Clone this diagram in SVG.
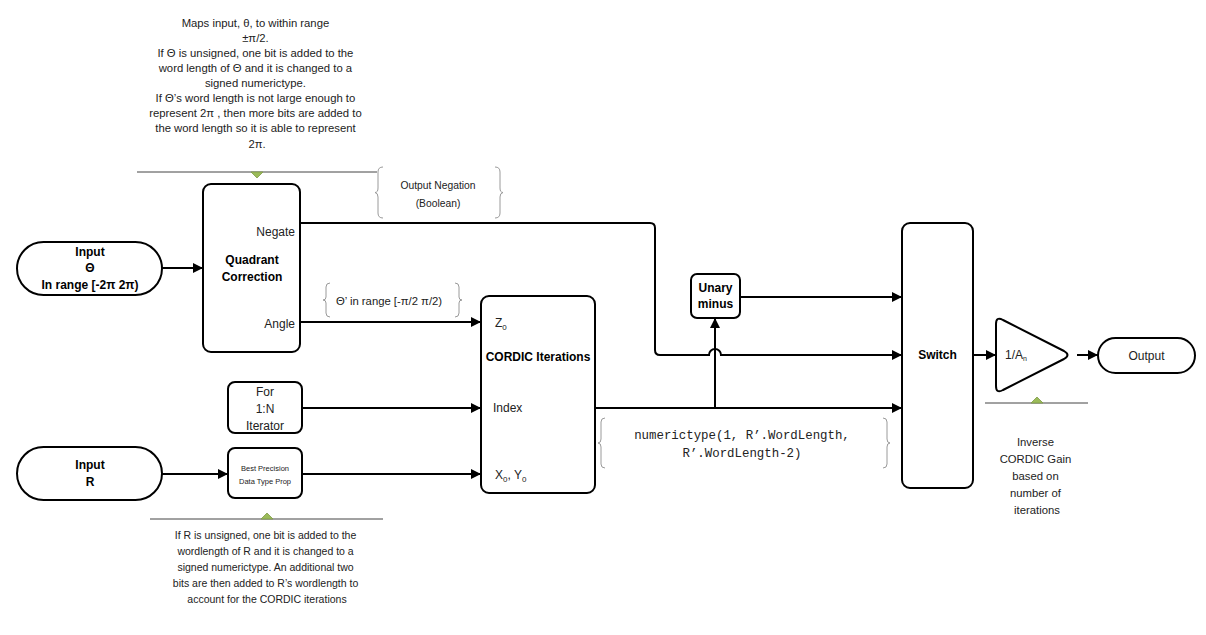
<svg xmlns="http://www.w3.org/2000/svg" width="1206" height="635" viewBox="0 0 1206 635">
<defs>
<style>
.box{fill:#fff;stroke:#000;stroke-width:2}
.conn{fill:none;stroke:#000;stroke-width:2}
.t{font-family:"Liberation Sans",Arial,sans-serif;font-size:12px;fill:#222}
.b{font-family:"Liberation Sans",Arial,sans-serif;font-size:12px;font-weight:bold;fill:#000}
.n{font-family:"Liberation Sans",Arial,sans-serif;font-size:11.3px;fill:#222}
.m{font-family:"Liberation Mono","Courier New",monospace;font-size:12.4px;fill:#222}
.brace{fill:none;stroke:#9a9a9a;stroke-width:1}
.aline{stroke:#444;stroke-width:1}
.tri{fill:#9bbb59;stroke:#7f9a48;stroke-width:0.8}
</style>
<marker id="arr" viewBox="0 0 10 10" refX="10" refY="5" markerWidth="5" markerHeight="5" orient="auto" markerUnits="strokeWidth">
<path d="M0,0 L10,5 L0,10 z" fill="#000"/>
</marker>
</defs>
<rect width="1206" height="635" fill="#fff"/>

<g id="note-top">
<text class="n" text-anchor="middle">
<tspan x="257" y="27">Maps input, θ, to within range</tspan>
<tspan x="257" y="42">±π/2.</tspan>
<tspan x="257" y="57">If Θ is unsigned, one bit is added to the</tspan>
<tspan x="257" y="72">word length of Θ and it is changed to a</tspan>
<tspan x="257" y="87">signed numerictype.</tspan>
<tspan x="257" y="102">If Θ’s word length is not large enough to</tspan>
<tspan x="257" y="117">represent 2π , then more bits are added to</tspan>
<tspan x="257" y="132">the word length so it is able to represent</tspan>
<tspan x="257" y="148">2π.</tspan>
</text>
<line class="aline" x1="137" y1="172" x2="377" y2="172"/>
<path class="tri" d="M251,172 L263,172 L257,178 z"/>
</g>

<g id="note-bottom">
<line class="aline" x1="150" y1="519" x2="383" y2="519"/>
<path class="tri" d="M261,519 L273,519 L267,513 z"/>
<text class="n" text-anchor="middle" style="font-size:10.5px">
<tspan x="267" y="539">If R is unsigned, one bit is added to the</tspan>
<tspan x="267" y="555">wordlength of R  and it is changed to a</tspan>
<tspan x="267" y="571">signed numerictype. An additional two</tspan>
<tspan x="267" y="587">bits are then added to R’s wordlength to</tspan>
<tspan x="267" y="603">account for the CORDIC iterations</tspan>
</text>
</g>

<g id="note-gain">
<line class="aline" x1="985" y1="403" x2="1088" y2="403"/>
<path class="tri" d="M1031,403 L1043,403 L1037,397 z"/>
<text class="n" text-anchor="middle">
<tspan x="1037" y="446">Inverse</tspan>
<tspan x="1037" y="463">CORDIC Gain</tspan>
<tspan x="1037" y="480">based on</tspan>
<tspan x="1037" y="497">number of</tspan>
<tspan x="1037" y="514">iterations</tspan>
</text>
</g>

<g id="label-negation">
<path class="brace" d="M383,167 Q378,167 378,172 V188 Q378,192.5 375,192.5 Q378,193 378,197 V213 Q378,218 383,218"/>
<path class="brace" d="M495,167 Q500,167 500,172 V188 Q500,192.5 503,192.5 Q500,193 500,197 V213 Q500,218 495,218"/>
<text class="n" text-anchor="middle" style="font-size:10.3px"><tspan x="438" y="189">Output Negation</tspan><tspan x="438" y="207">(Boolean)</tspan></text>
</g>

<g id="label-angle">
<path class="brace" d="M330,283 Q326,283 326,287 V297 Q326,300 323,300 Q326,300 326,303 V313 Q326,317 330,317"/>
<path class="brace" d="M455,283 Q459,283 459,287 V297 Q459,300 462,300 Q459,300 459,303 V313 Q459,317 455,317"/>
<text class="n" text-anchor="middle" x="389" y="305">Θ’ in range [-π/2 π/2)</text>
</g>

<g id="label-numerictype">
<path class="brace" d="M605,418 Q601,418 601,422 V439 Q601,443 598,443 Q601,443 601,447 V464 Q601,468 605,468"/>
<path class="brace" d="M883,418 Q887,418 887,422 V439 Q887,443 890,443 Q887,443 887,447 V464 Q887,468 883,468"/>
<text class="m" text-anchor="middle"><tspan x="742" y="439">numerictype(1, R’.WordLength,</tspan><tspan x="742" y="457">R’.WordLength-2)</tspan></text>
</g>

<g id="connectors">
<line class="conn" x1="162" y1="268" x2="203" y2="268" marker-end="url(#arr)"/>
<path class="conn" d="M300,223 H650 Q655,223 655,228 V350 Q655,355 660,355 H709 A6,6 0 0 1 721,355 H902" marker-end="url(#arr)"/>
<line class="conn" x1="300" y1="322" x2="481" y2="322" marker-end="url(#arr)"/>
<line class="conn" x1="302" y1="408" x2="481" y2="408" marker-end="url(#arr)"/>
<line class="conn" x1="162" y1="474" x2="228" y2="474" marker-end="url(#arr)"/>
<line class="conn" x1="302" y1="474" x2="481" y2="474" marker-end="url(#arr)"/>
<line class="conn" x1="595" y1="408" x2="902" y2="408" marker-end="url(#arr)"/>
<line class="conn" x1="715" y1="408" x2="715" y2="318" marker-end="url(#arr)"/>
<line class="conn" x1="740" y1="297" x2="902" y2="297" marker-end="url(#arr)"/>
<line class="conn" x1="973" y1="355" x2="996" y2="355" marker-end="url(#arr)"/>
<line class="conn" x1="1077" y1="355" x2="1098" y2="355" marker-end="url(#arr)"/>
</g>

<g id="input-theta">
<rect class="box" x="17" y="242" width="145" height="53" rx="26.5"/>
<text class="b" text-anchor="middle"><tspan x="90" y="256">Input</tspan><tspan x="90" y="272">Θ</tspan><tspan x="90" y="289">In range [-2π 2π)</tspan></text>
</g>

<g id="quadrant-correction">
<rect class="box" x="203" y="184" width="97" height="168" rx="8"/>
<text class="b" text-anchor="middle"><tspan x="252" y="264">Quadrant</tspan><tspan x="252" y="281">Correction</tspan></text>
<text class="t" text-anchor="end" x="295" y="236">Negate</text>
<text class="t" text-anchor="end" x="295" y="328">Angle</text>
</g>

<g id="for-iterator">
<rect class="box" x="228" y="382" width="74" height="51" rx="7"/>
<text class="t" text-anchor="middle"><tspan x="265" y="396">For</tspan><tspan x="265" y="413">1:N</tspan><tspan x="265" y="430">Iterator</tspan></text>
</g>

<g id="input-r">
<rect class="box" x="17" y="447" width="145" height="53" rx="26.5"/>
<text class="b" text-anchor="middle"><tspan x="90" y="469">Input</tspan><tspan x="90" y="486">R</tspan></text>
</g>

<g id="best-precision">
<rect class="box" x="228" y="448" width="74" height="50" rx="7"/>
<text class="t" text-anchor="middle" style="font-size:7.5px"><tspan x="265" y="471">Best Precision</tspan><tspan x="265" y="484">Data Type Prop</tspan></text>
</g>

<g id="cordic-iterations">
<rect class="box" x="481" y="296" width="114" height="197" rx="8"/>
<text class="t" x="495" y="327">Z<tspan font-size="8" dy="3">0</tspan></text>
<text class="b" text-anchor="middle" x="538" y="361">CORDIC Iterations</text>
<text class="t" x="493" y="412">Index</text>
<text class="t" x="495" y="479">X<tspan font-size="8" dy="3">0</tspan><tspan dy="-3">, Y</tspan><tspan font-size="8" dy="3">0</tspan></text>
</g>

<g id="unary-minus">
<rect class="box" x="691" y="274" width="49" height="44" rx="6"/>
<text class="b" text-anchor="middle"><tspan x="715.5" y="292">Unary</tspan><tspan x="715.5" y="308">minus</tspan></text>
</g>

<g id="switch">
<rect class="box" x="902" y="223" width="71" height="265" rx="8"/>
<text class="b" text-anchor="middle" x="937.5" y="359">Switch</text>
</g>

<g id="gain">
<path class="box" d="M996,324 Q996,316 1003,320 L1064,351 Q1071,355 1064,359 L1003,390 Q996,394 996,386 Z" stroke-linejoin="round"/>
<text class="t" x="1005" y="359">1/A<tspan font-size="7" dy="2">n</tspan></text>
</g>

<g id="output">
<rect class="box" x="1098" y="338" width="97" height="35" rx="17.5"/>
<text class="t" text-anchor="middle" x="1146.5" y="360">Output</text>
</g>
</svg>
